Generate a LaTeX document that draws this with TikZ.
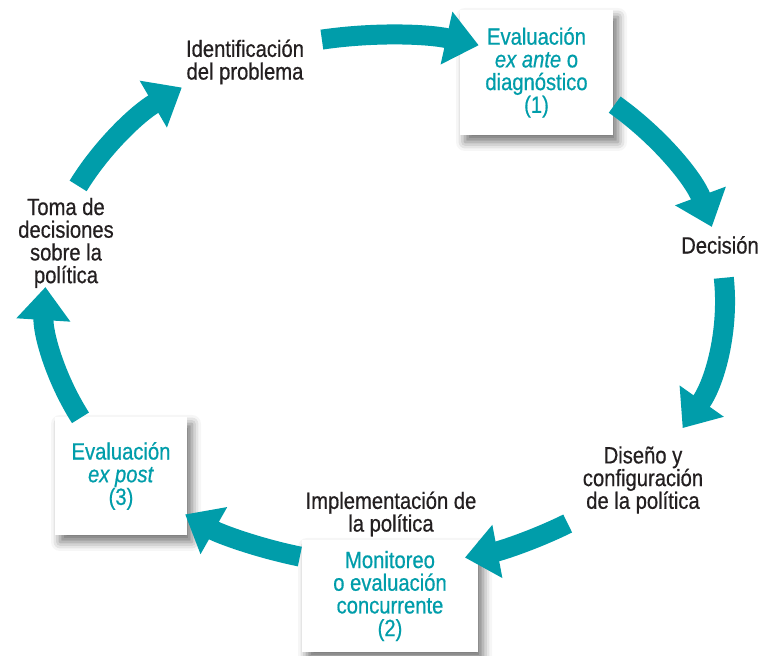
\documentclass[tikz,border=0pt]{standalone}
\usepackage{fontspec}
\setmainfont[FakeStretch=0.86,FakeBold=0.6]{Liberation Sans}
\usetikzlibrary{arrows.meta,shadows.blur}
\definecolor{cycT}{RGB}{0,157,170}
\definecolor{cycK}{RGB}{35,31,32}

\begin{document}
\begin{tikzpicture}[x=1pt,y=1pt,>={Triangle[width=52pt,length=33pt]},
  lbl/.style={align=center,text=cycK,font=\fontsize{23.5}{22.7}\selectfont},
  evalbox/.style={lbl,text=cycT,fill=white,inner sep=0pt,
    blur shadow={shadow xshift=5pt,shadow yshift=-7pt,shadow blur radius=9pt,shadow opacity=55}},
  cyc/.style={->,line width=20pt,cycT}]
\useasboundingbox (0,0) rectangle (761,656);
% evaluation boxes
\node[evalbox,minimum width=153pt,minimum height=125pt] (ev1) at (536.5,583.5) {Evaluación\\\textit{ex ante} o\\diagnóstico\\(1)};
\node[evalbox,minimum width=176pt,minimum height=112pt] (ev2) at (390,60) {Monitoreo\\o evaluación\\concurrente\\(2)};
\node[evalbox,minimum width=132pt,minimum height=118pt] (ev3) at (121,180) {Evaluación\\\textit{ex post}\\(3)};
% stages
\node[lbl] (ident) at (245,594) {Identificación\\del problema};
\node[lbl] (decis) at (720,411) {Decisión};
\node[lbl] (disen) at (643,176) {Diseño y\\configuración\\de la política};
\node[lbl] (impl) at (391,142) {Implementación de\\la política};
\node[lbl] (toma) at (66,413) {Toma de\\decisiones\\sobre la\\política};
% cycle arrows
\foreach \n/\a/\b in {1/100.7/74, 2/47.5/16, 3/4.8/-28.9, 4/-57.5/-76.4, 5/-104.5/-126, 6/206.4/177.2, 7/154.5/126.7}{
  \coordinate (from\n) at ({385+340*cos(\a)},{356+265*sin(\a)});
  \draw[cyc] (from\n) arc[start angle=\a, end angle=\b, x radius=340pt, y radius=265pt];
}
\end{tikzpicture}
\end{document}
